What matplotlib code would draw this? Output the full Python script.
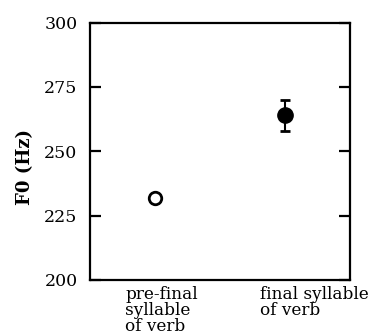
import matplotlib
matplotlib.use("Agg")
import matplotlib.pyplot as plt
import matplotlib.transforms as mtransforms

# data
categories = ["pre-final\nsyllable\nof verb", "final syllable\nof verb"]
f0_mean = [232, 264]
f0_err = [0, 6]
y_ticks = [200, 225, 250, 275, 300]

plt.rcParams["font.family"] = ["DejaVu Serif"]

fig = plt.figure(figsize=(3.72, 3.36), dpi=100)
ax = fig.add_axes([0.242, 0.1667, 0.699, 0.766])

x = [1, 2]
# open circle (pre-final)
ax.plot(x[0], f0_mean[0], "o", ms=9, mfc="white", mec="black", mew=2)
# filled circle with error bar (final)
ax.errorbar(x[1], f0_mean[1], yerr=f0_err[1], fmt="o", ms=11, color="black",
            ecolor="black", elinewidth=1.5, capsize=3.5, capthick=2)

ax.set_xlim(0.5, 2.5)
ax.set_ylim(200, 300)
ax.set_yticks(y_ticks)
ax.tick_params(axis="y", direction="in", length=8, width=1.6, pad=9,
               labelsize=12.5, right=True)
ax.set_xticks(x)
ax.set_xticklabels(categories, fontsize=12.2, ha="left", va="top", linespacing=0.95)
ax.tick_params(axis="x", length=0, pad=4)

offsets = [-30, -25]
for lab, off in zip(ax.get_xticklabels(), offsets):
    lab.set_transform(lab.get_transform() +
                      mtransforms.ScaledTranslation(off / 100, 0, fig.dpi_scale_trans))

for sp in ax.spines.values():
    sp.set_linewidth(1.6)

ax.set_ylabel("F0 (Hz)", fontsize=13, fontweight="bold")
ax.yaxis.set_label_coords(-0.215, 0.44)

fig.savefig("out.png", dpi=100)
